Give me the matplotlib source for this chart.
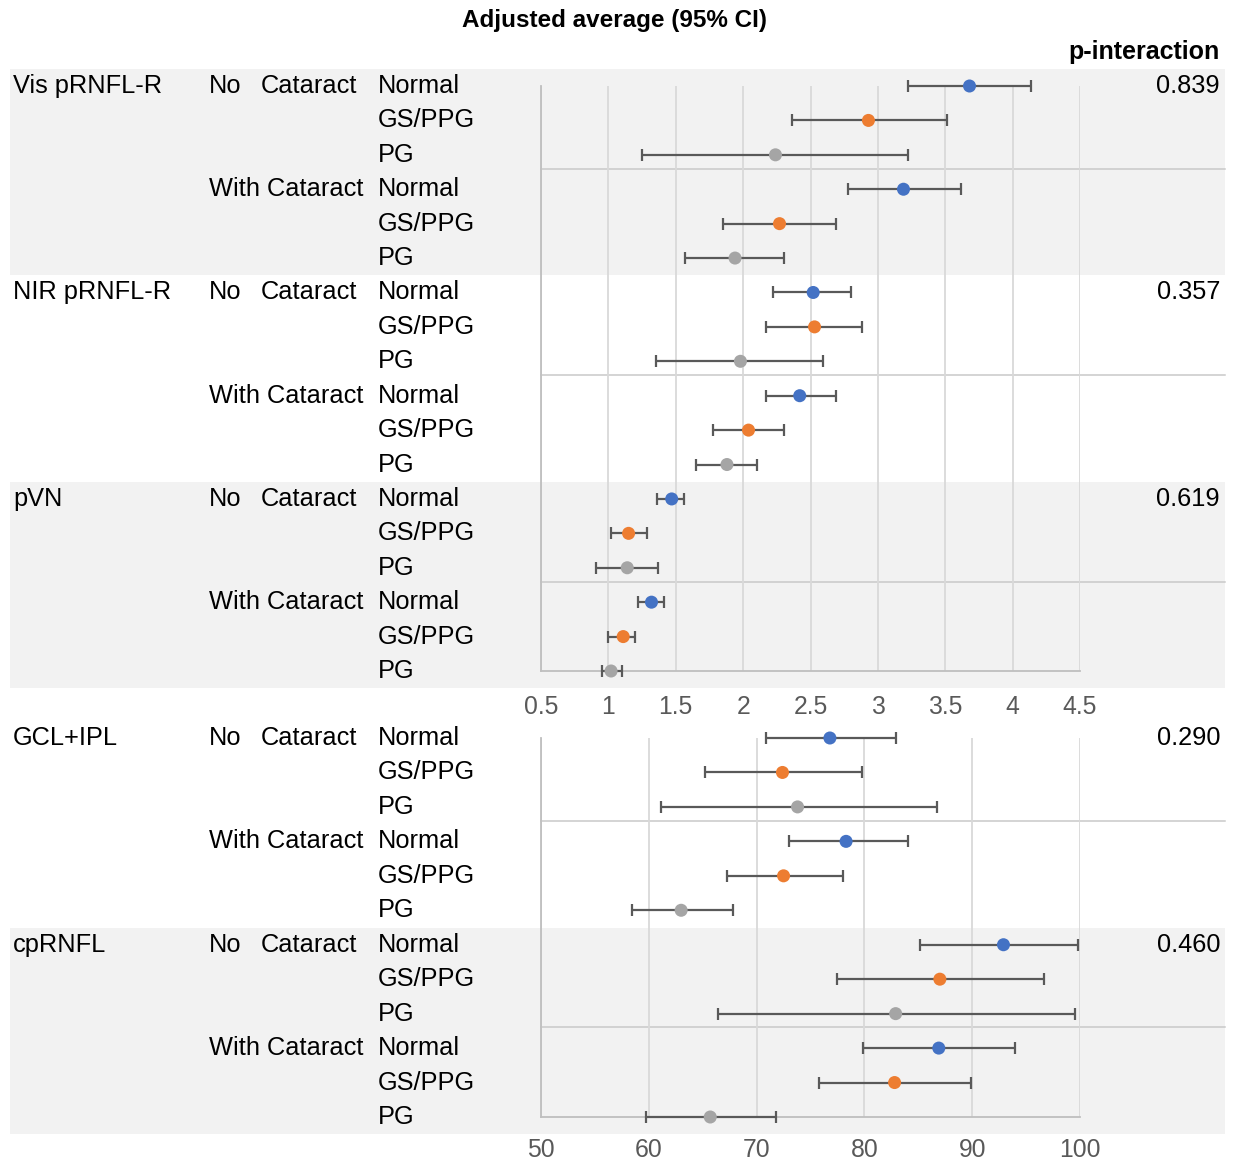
import numpy as np
import matplotlib
matplotlib.use('Agg')
import matplotlib.pyplot as plt
import matplotlib.transforms as mtransforms
from matplotlib.patches import Rectangle

plt.rcParams['font.family'] = ['Liberation Sans', 'DejaVu Sans']

# --- data ---
subgroups = ['Normal', 'GS/PPG', 'PG']
sub_colors = ['#4472C4', '#ED7D31', '#A5A5A5']

# order inside each outcome: No cataract (Normal, GS/PPG, PG), With cataract (Normal, GS/PPG, PG)
top_outcomes = ['Vis pRNFL-R', 'NIR pRNFL-R', 'pVN']
top_p = ['0.839', '0.357', '0.619']
vis_mean = [3.68, 2.93, 2.24, 3.19, 2.27, 1.94]
vis_lo = [3.22, 2.36, 1.25, 2.78, 1.85, 1.57]
vis_hi = [4.14, 3.51, 3.22, 3.62, 2.69, 2.30]
nir_mean = [2.52, 2.53, 1.98, 2.42, 2.04, 1.88]
nir_lo = [2.22, 2.17, 1.35, 2.17, 1.78, 1.65]
nir_hi = [2.80, 2.88, 2.59, 2.69, 2.30, 2.10]
pvn_mean = [1.47, 1.15, 1.14, 1.32, 1.11, 1.02]
pvn_lo = [1.36, 1.02, 0.91, 1.22, 1.00, 0.95]
pvn_hi = [1.56, 1.29, 1.37, 1.41, 1.20, 1.10]
top_ticks = [0.5, 1, 1.5, 2, 2.5, 3, 3.5, 4, 4.5]
top_ticklabels = ['0.5', '1', '1.5', '2', '2.5', '3', '3.5', '4', '4.5']

bot_outcomes = ['GCL+IPL', 'cpRNFL']
bot_p = ['0.290', '0.460']
gcl_mean = [76.8, 72.4, 73.8, 78.3, 72.5, 63.0]
gcl_lo = [70.9, 65.2, 61.1, 73.0, 67.3, 58.4]
gcl_hi = [82.9, 79.8, 86.7, 84.0, 78.0, 67.8]
rnfl_mean = [92.9, 87.0, 82.9, 86.9, 82.8, 65.7]
rnfl_lo = [85.2, 77.5, 66.4, 79.9, 75.8, 59.7]
rnfl_hi = [99.8, 96.7, 99.5, 94.0, 89.9, 71.8]
bot_ticks = [50, 60, 70, 80, 90, 100]
bot_ticklabels = ['50', '60', '70', '80', '90', '100']

W, H = 1233, 1160
fig = plt.figure(figsize=(W / 100, H / 100), dpi=100)


def px(x):
    return x / W


ax1 = fig.add_axes([px(541), 1 - 671 / H, px(1080) - px(541), (671 - 86) / H])
ax2 = fig.add_axes([px(541), 1 - 1117 / H, px(1080) - px(541), (1117 - 738) / H])

FS = 18.3
grey_txt = '#595959'


def draw_panel(ax, names, pvals, means, los, his, ticks, ticklabels, shaded, pad):
    trans = mtransforms.blended_transform_factory(fig.transFigure, ax.transData)
    mean = np.concatenate(means)
    lo = np.concatenate(los)
    hi = np.concatenate(his)
    rows = np.arange(len(mean))
    colors = [sub_colors[i % 3] for i in range(len(mean))]

    eb = ax.errorbar(mean, rows, xerr=[mean - lo, hi - mean], fmt='none',
                     ecolor='#595959', elinewidth=1.6, capsize=4.5, capthick=1.6, zorder=3)
    for a in eb.get_children():
        a.set_clip_on(False)
    ax.scatter(mean, rows, c=colors, s=88, zorder=4, edgecolors='none', clip_on=False)

    ax.set_xlim(ticks[0], ticks[-1])
    ax.set_ylim(len(mean) - 1, 0)
    ax.set_yticks([])
    ax.set_xticks(ticks)
    ax.set_xticklabels(ticklabels)
    ax.tick_params(axis='x', length=0, pad=pad, labelsize=17.8, labelcolor=grey_txt)
    ax.grid(axis='x', color='#D9D9D9', lw=1.3)
    ax.patch.set_visible(False)
    for s in ['top', 'right']:
        ax.spines[s].set_visible(False)
    for s in ['left', 'bottom']:
        ax.spines[s].set_color('#BFBFBF')
        ax.spines[s].set_linewidth(1.3)

    for k, name in enumerate(names):
        r0 = 6 * k
        if shaded[k]:
            ax.add_patch(Rectangle((px(10), r0 - 0.5), px(1225) - px(10), 6,
                                   transform=trans, facecolor='#F2F2F2',
                                   edgecolor='none', zorder=0, clip_on=False))
        # thin separator between "No" and "With" cataract
        ax.plot([px(541), px(1225)], [r0 + 2.4, r0 + 2.4], transform=trans,
                color='#C9C9C9', lw=1.1, clip_on=False, zorder=1)
        ax.text(px(13), r0, name, transform=trans, ha='left', va='center', fontsize=FS)
        ax.text(px(209), r0, 'No', transform=trans, ha='left', va='center', fontsize=FS)
        ax.text(px(261), r0, 'Cataract', transform=trans, ha='left', va='center', fontsize=FS)
        ax.text(px(209), r0 + 3, 'With Cataract', transform=trans, ha='left',
                va='center', fontsize=FS)
        for j in range(6):
            ax.text(px(378), r0 + j, subgroups[j % 3], transform=trans, ha='left',
                    va='center', fontsize=FS)
        ax.text(px(1220), r0, pvals[k], transform=trans, ha='right', va='center',
                fontsize=FS)


draw_panel(ax1, top_outcomes, top_p, [vis_mean, nir_mean, pvn_mean],
           [vis_lo, nir_lo, pvn_lo], [vis_hi, nir_hi, pvn_hi],
           top_ticks, top_ticklabels, [True, False, True], pad=17)
draw_panel(ax2, bot_outcomes, bot_p, [gcl_mean, rnfl_mean],
           [gcl_lo, rnfl_lo], [gcl_hi, rnfl_hi],
           bot_ticks, bot_ticklabels, [False, True], pad=15)

fig.text(px(615), 1 - 20 / H, 'Adjusted average (95% CI)', ha='center', va='center',
         fontsize=17.5, fontweight='bold')
fig.text(px(1220), 1 - 52 / H, 'p-interaction', ha='right', va='center',
         fontsize=18, fontweight='bold')

fig.savefig('out.png', dpi=100)
